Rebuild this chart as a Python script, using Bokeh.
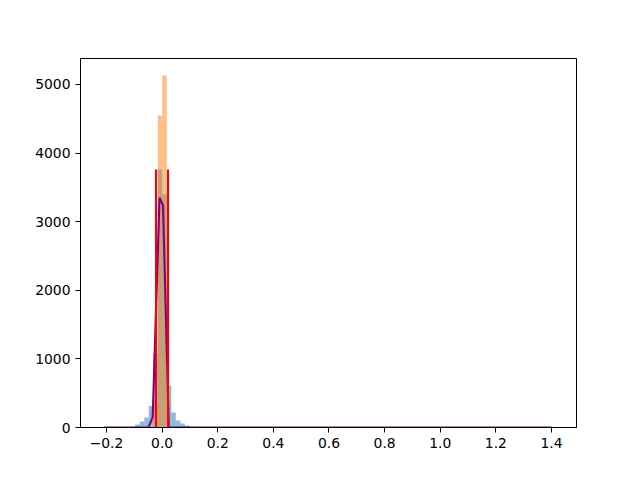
from bokeh.plotting import figure
from bokeh.models import Range1d, FixedTicker, CustomJSTickFormatter
from bokeh.embed import file_html
from bokeh.resources import INLINE

# Histogram bins (shared grid: 100 bins between -0.21 and 1.41)
bin_start = -0.21
bin_width = 0.0162

# blue histogram: (bin index, count)
blue_bins = [5, 6, 7, 8, 9, 10, 11, 12, 13, 14, 15, 16, 17, 18, 19, 20]
blue_counts = [4, 12, 44, 87, 146, 315, 1079, 3760, 3397, 612, 219, 102, 58, 29, 10, 4]

# orange histogram
orange_bins = [11, 12, 13]
orange_counts = [360, 4548, 5131]

# purple curve
curve_x = [-0.21, -0.049, -0.034, -0.022, -0.0094, 0.0032, 0.024, 1.403]
curve_y = [0, 0, 150, 1700, 3350, 3240, 0, 0]

# red vertical lines
vline_x = [-0.022, 0.0212]
vline_top = [3760, 3760]

x_ticks = [-0.2, 0.0, 0.2, 0.4, 0.6, 0.8, 1.0, 1.2, 1.4]
y_ticks = [0, 1000, 2000, 3000, 4000, 5000]

p = figure(width=632, height=472, output_backend="svg", toolbar_location=None,
           x_range=Range1d(-0.2935, 1.49), y_range=Range1d(0, 5379),
           min_border_left=80, min_border_right=56, min_border_top=58, min_border_bottom=45)

bl = [bin_start + k * bin_width for k in blue_bins]
br = [v + bin_width for v in bl]
p.quad(left=bl, right=br, bottom=0, top=blue_counts, fill_color="#1f77b4", fill_alpha=0.5, line_color=None)

ol = [bin_start + k * bin_width for k in orange_bins]
orr = [v + bin_width for v in ol]
p.quad(left=ol, right=orr, bottom=0, top=orange_counts, fill_color="#ff7f0e", fill_alpha=0.5, line_color=None)

p.line(curve_x, curve_y, line_color="purple", line_width=2.1)

p.segment(x0=vline_x, y0=[0, 0], x1=vline_x, y1=vline_top, line_color="red", line_width=2.1)

p.grid.visible = False
p.outline_line_color = "black"
p.outline_line_width = 1
p.background_fill_color = "white"
p.border_fill_color = "white"

for ax in (p.xaxis[0], p.yaxis[0]):
    ax.major_label_text_font = "DejaVu Sans"
    ax.major_label_text_font_size = "13.9px"
    ax.major_label_text_color = "black"
    ax.axis_line_color = "black"
    ax.major_tick_line_color = "black"
    ax.major_tick_in = 0
    ax.major_tick_out = 5
    ax.minor_tick_line_color = None
    ax.major_label_standoff = 5

p.xaxis.ticker = FixedTicker(ticks=x_ticks)
p.yaxis.ticker = FixedTicker(ticks=y_ticks)
p.xaxis.formatter = CustomJSTickFormatter(code="return tick.toFixed(1).replace('-', '\u2212');")
p.yaxis.formatter = CustomJSTickFormatter(code="return tick.toFixed(0);")

open("out.html", "w").write(file_html(p, INLINE))
